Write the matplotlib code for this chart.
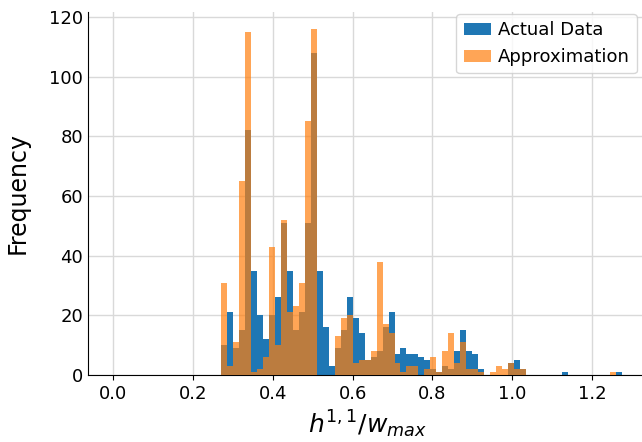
import numpy as np
import matplotlib
matplotlib.use("Agg")
import matplotlib.pyplot as plt

# bin layout: width 0.015 starting at 0.27
bin_start = 0.27
bin_width = 0.015

actual_counts = [10, 21, 9, 15, 82, 35, 20, 12, 20, 26,
                 51, 35, 15, 21, 51, 108, 35, 16, 3, 9,
                 15, 26, 19, 14, 5, 6, 8, 16, 21, 7,
                 9, 7, 7, 6, 5, 2, 1, 3, 2, 8,
                 15, 8, 7, 2, 0, 0, 0, 0, 4, 5,
                 2, 0, 0, 0, 0, 0, 0, 1, 0, 0,
                 0, 0, 0, 0, 0, 0, 1]
approx_counts = [31, 3, 11, 65, 115, 1, 2, 6, 43, 10,
                 52, 21, 23, 31, 85, 116, 0, 0, 0, 13,
                 19, 20, 4, 5, 5, 8, 38, 17, 14, 4,
                 1, 3, 3, 0, 2, 6, 1, 8, 14, 4,
                 11, 2, 2, 1, 0, 1, 3, 2, 4, 2,
                 2, 0, 0, 0, 0, 0, 0, 0, 0, 0,
                 0, 0, 0, 0, 0, 1, 0]

n = len(actual_counts)
edges = bin_start + bin_width * np.arange(n + 1)
centers = (edges[:-1] + edges[1:]) / 2

fig = plt.figure(figsize=(6.42, 4.42), dpi=100)
ax = fig.add_axes([0.1369, 0.1516, 0.8715, 0.822])

ax.hist(centers, bins=edges, weights=actual_counts, color="#1f77b4",
        label="Actual Data", zorder=2)
ax.hist(centers, bins=edges, weights=approx_counts, color="#ff7f0e",
        alpha=0.7, label="Approximation", zorder=3)

ax.set_xlim(-0.0637, 1.339)
ax.set_ylim(0, 121.8)
ax.set_xticks([0.0, 0.2, 0.4, 0.6, 0.8, 1.0, 1.2])
ax.set_yticks([0, 20, 40, 60, 80, 100, 120])
ax.grid(True, color="#d9d9d9", linewidth=1.0, zorder=0)
ax.set_axisbelow(True)
for s in ["top", "right"]:
    ax.spines[s].set_visible(False)
ax.tick_params(labelsize=13)
ax.tick_params(axis="y", length=0)
ax.set_xlabel(r"$h^{1,1}/w_{max}$", fontsize=18)
ax.set_ylabel("Frequency", fontsize=17, labelpad=14)
ax.legend(loc="upper right", fontsize=13, handlelength=1.5,
          handletextpad=0.4, borderaxespad=0,
          bbox_to_anchor=(637 / 642, 1 - 14 / 442),
          bbox_transform=fig.transFigure)

fig.savefig("out.png", dpi=100)
